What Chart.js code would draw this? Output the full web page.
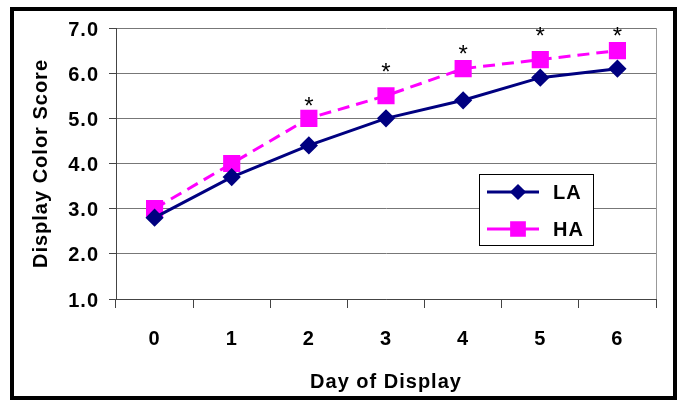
<!DOCTYPE html>
<html>
<head>
<meta charset="utf-8">
<script src="https://cdn.jsdelivr.net/npm/chart.js@4.4.1/dist/chart.umd.min.js"></script>
<style>
  body { margin: 0; background: #fff; }
  #frame { position: absolute; left: 10px; top: 7px; width: 667px; height: 393px;
           border: 4px solid #000; box-sizing: border-box; }
  #wrap { position: absolute; left: 0; top: 0; width: 681px; height: 401px; }
</style>
</head>
<body>
<div id="frame"></div>
<div id="wrap"><canvas id="chart" width="681" height="401"></canvas></div>
<script>
// values
var days = ['0', '1', '2', '3', '4', '5', '6'];
var laScores = [2.8, 3.7, 4.4, 5.0, 5.4, 5.9, 6.1];
var haScores = [3.0, 4.0, 5.0, 5.5, 6.1, 6.3, 6.5];
// where the significance stars sit (score units), null = no star
var starY = [null, null, 5.38, 6.14, 6.54, 6.93, 6.93];

var FONT = "'Liberation Sans', Arial, sans-serif";

var extras = {
  id: 'extras',
  beforeDraw: function(chart) {
    // the original text is set a little loose
    chart.ctx.letterSpacing = '1px';
  },
  afterDatasetsDraw: function(chart) {
    var ctx = chart.ctx, a = chart.chartArea;
    var xs = chart.scales.x, ys = chart.scales.y;
    ctx.save();
    // right edge of plot area
    ctx.strokeStyle = '#999';
    ctx.lineWidth = 1;
    ctx.beginPath();
    ctx.moveTo(a.right + 0.5, a.top);
    ctx.lineTo(a.right + 0.5, a.bottom);
    ctx.stroke();
    // stars
    ctx.letterSpacing = '0px';
    ctx.fillStyle = '#000';
    ctx.font = '24px ' + FONT;
    ctx.textAlign = 'center';
    ctx.textBaseline = 'alphabetic';
    starY.forEach(function(v, i) {
      if (v === null) return;
      ctx.fillText('*', xs.getPixelForValue(i), ys.getPixelForValue(v) + 13);
    });
    ctx.restore();
  },
  afterDraw: function(chart) {
    var ctx = chart.ctx;
    ctx.save();
    ctx.fillStyle = '#fff';
    ctx.fillRect(479, 174, 114, 71);
    ctx.strokeStyle = '#000';
    ctx.lineWidth = 1;
    ctx.strokeRect(479.5, 174.5, 114, 71);
    var rows = [192, 229];
    chart.data.datasets.forEach(function(ds, i) {
      var y = rows[i];
      ctx.strokeStyle = ds.borderColor;
      ctx.lineWidth = 3;
      ctx.setLineDash([]);
      ctx.beginPath();
      ctx.moveTo(487, y);
      ctx.lineTo(539, y);
      ctx.stroke();
      Chart.helpers.drawPoint(ctx, {pointStyle: ds.pointStyle, radius: ds.pointRadius - 1, borderWidth: 1}, 518, y);
      ctx.fillStyle = ds.pointBackgroundColor;
      ctx.fill();
      ctx.fillStyle = '#000';
      ctx.font = 'bold 20px ' + FONT;
      ctx.letterSpacing = '1px';
      ctx.textAlign = 'left';
      ctx.textBaseline = 'middle';
      ctx.fillText(ds.label, 553, y + 1);
    });
    ctx.restore();
  }
};

new Chart(document.getElementById('chart'), {
  type: 'line',
  data: {
    labels: days,
    datasets: [{
      label: 'LA',
      data: laScores,
      borderColor: '#000080',
      backgroundColor: '#000080',
      pointBackgroundColor: '#000080',
      pointBorderColor: '#000080',
      borderWidth: 3,
      pointStyle: 'rectRot',
      pointRadius: 7,
      tension: 0
    }, {
      label: 'HA',
      data: haScores,
      borderColor: '#ff00ff',
      backgroundColor: '#ff00ff',
      pointBackgroundColor: '#ff00ff',
      pointBorderColor: '#ff00ff',
      borderWidth: 3,
      borderDash: [12, 7],
      pointStyle: 'rect',
      pointRadius: 10,
      tension: 0
    }]
  },
  options: {
    responsive: false,
    animation: false,
    layout: { padding: { top: 28, right: 25, left: 0, bottom: 0 } },
    plugins: { legend: { display: false }, tooltip: { enabled: false } },
    scales: {
      x: {
        offset: true,
        afterFit: function(s) { s.height = 102; },
        grid: { offset: true, drawOnChartArea: false, tickLength: 9, tickColor: '#444' },
        border: { color: '#444', width: 1 },
        ticks: { color: '#000', padding: 19, font: { family: FONT, size: 20, weight: 'bold' } },
        title: { display: true, text: 'Day of Display', color: '#000', padding: { top: 0, bottom: 7 },
                 font: { family: FONT, size: 20, weight: 'bold' } }
      },
      y: {
        min: 1, max: 7,
        afterFit: function(s) { s.width = 116; },
        grid: { color: '#777', tickLength: 7, tickColor: '#444' },
        border: { color: '#444', width: 1 },
        ticks: { stepSize: 1, color: '#000', padding: 10, labelOffset: 2,
                 font: { family: FONT, size: 20, weight: 'bold' },
                 callback: function(v) { return Number(v).toFixed(1); } },
        title: { display: true, text: 'Display Color Score', color: '#000', padding: { top: 29, bottom: 0 },
                 font: { family: FONT, size: 20, weight: 'bold' } }
      }
    }
  },
  plugins: [extras]
});
</script>
</body>
</html>
